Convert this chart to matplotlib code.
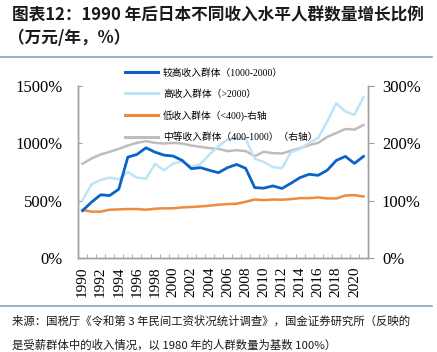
import matplotlib
matplotlib.use("Agg")
import matplotlib.pyplot as plt
from matplotlib.lines import Line2D
import numpy as np

years = list(range(1990, 2022))
higher_1000_2000 = [413, 488, 551, 545, 600, 880, 903, 961, 923, 897, 889, 851, 779, 788, 765, 744,
                    788, 816, 782, 614, 609, 629, 606, 652, 701, 730, 721, 765, 851, 886, 825, 886]
high_2000 = [505, 643, 681, 701, 687, 750, 701, 692, 822, 765, 825, 842, 796, 819, 903, 975,
             1033, 1041, 1041, 866, 837, 793, 782, 923, 952, 1004, 1047, 1191, 1350, 1278, 1249, 1402]
low_400 = [83.7, 80.8, 80.8, 84.2, 84.8, 85.4, 85.4, 84.2, 86.0, 86.6, 86.6, 88.3, 88.9, 90.0, 91.2, 92.9,
           94.0, 94.6, 98.1, 102.0, 101.0, 102.0, 101.6, 102.7, 104.4, 104.4, 105.6, 103.9, 103.9, 109.0, 109.6, 107.3]
mid_400_1000 = [164.4, 173.7, 180.6, 185.2, 190.4, 196.2, 200.8, 203.7, 200.8, 199.6, 200.8, 199.6, 196.2, 193.9, 191.6, 190.4,
                186.4, 188.0, 186.4, 177.7, 185.2, 182.9, 182.3, 187.0, 191.6, 196.8, 200.8, 211.2, 218.0, 225.0, 223.9, 232.0]

labels = ["较高收入群体（1000-2000）", "高收入群体（>2000）", "低收入群体（<400)-右轴", "中等收入群体（400-1000）（右轴）"]
left_ticks = [0, 500, 1000, 1500]
right_ticks = [0, 100, 200, 300]

title1 = "图表12：1990 年后日本不同收入水平人群数量增长比例"
title2 = "（万元/年，%）"
source1 = "来源：国税厅《令和第 3 年民间工资状况统计调查》，国金证券研究所（反映的"
source2 = "是受薪群体中的收入情况，以 1980 年的人群数量为基数 100%）"

c_blue = "#0a64c8"
c_lblue = "#bfe3f8"
c_orange = "#ef8a3a"
c_gray = "#bdbdbd"
spine_c = "#a0a0a0"
serif = ["Liberation Serif", "Noto Sans CJK SC"]
cjk = ["Noto Sans CJK SC", "DejaVu Sans"]

fig = plt.figure(figsize=(4.37, 3.52), dpi=100)
W, H = 437, 352
ax = fig.add_axes([78 / W, 1 - 258 / H, (368 - 78) / W, (258 - 86) / H])
ax2 = ax.twinx()

x = np.arange(len(years))
ax.plot(x, higher_1000_2000, color=c_blue, lw=2.0, zorder=4)
ax.plot(x, high_2000, color=c_lblue, lw=1.8, zorder=3)
ax2.plot(x, low_400, color=c_orange, lw=1.8)
ax2.plot(x, mid_400_1000, color=c_gray, lw=1.8)
ax.set_zorder(ax2.get_zorder() + 1)
ax.patch.set_visible(False)

ax.set_xlim(-0.5, len(years) - 0.5)
ax.set_ylim(0, 1500)
ax2.set_ylim(0, 300)
ax.set_yticks(left_ticks)
ax.set_yticklabels([f"{v}%" for v in left_ticks], family=serif, fontsize=12)
ax2.set_yticks(right_ticks)
ax2.set_yticklabels([f"{v}%" for v in right_ticks], family=serif, fontsize=12)
ax.tick_params(axis="y", direction="in", length=3, color=spine_c, pad=11)
ax2.tick_params(axis="y", direction="out", length=4, color=spine_c, pad=6)

ax.set_xticks(x[::2])
ax.set_xticklabels([str(y) for y in years[::2]], rotation=90, family=serif, fontsize=11)
ax.set_xticks(np.arange(-0.5, len(years), 1), minor=True)
ax.tick_params(axis="x", which="major", length=0, pad=6)
ax.tick_params(axis="x", which="minor", direction="in", length=3, color=spine_c)

for a in (ax, ax2):
    a.spines["top"].set_visible(False)
    for s in ("left", "right", "bottom"):
        a.spines[s].set_color(spine_c)
        a.spines[s].set_linewidth(1.0)

handles = [Line2D([], [], color=c, lw=2.2) for c in (c_blue, c_lblue, c_orange, c_gray)]
fig.legend(handles, labels, loc="upper left", bbox_to_anchor=(125 / W, 1 - 68 / H),
           frameon=False, prop={"family": serif, "size": 7}, handlelength=3.4,
           handletextpad=0.5, labelspacing=1.2, borderpad=0, borderaxespad=0)

fig.text(12 / W, 1 - 15 / H, title1, family=cjk, fontsize=12, fontweight="bold",
         color="#1a1a1a", va="center", ha="left")
fig.text(8 / W, 1 - 38 / H, title2, family=cjk, fontsize=12, fontweight="bold",
         color="#1a1a1a", va="center", ha="left")
fig.add_artist(Line2D([0, 432 / W], [1 - 57 / H, 1 - 57 / H], color="#8fa3bb", lw=1.2))
fig.add_artist(Line2D([0, 432 / W], [1 - 306 / H, 1 - 306 / H], color="#8fa3bb", lw=1.2))
fig.text(12 / W, 1 - 321 / H, source1, family=cjk, fontsize=8.2, color="#1a1a1a",
         va="center", ha="left")
fig.text(12 / W, 1 - 345 / H, source2, family=cjk, fontsize=8.2, color="#1a1a1a",
         va="center", ha="left")

fig.savefig("out.png", dpi=100)
